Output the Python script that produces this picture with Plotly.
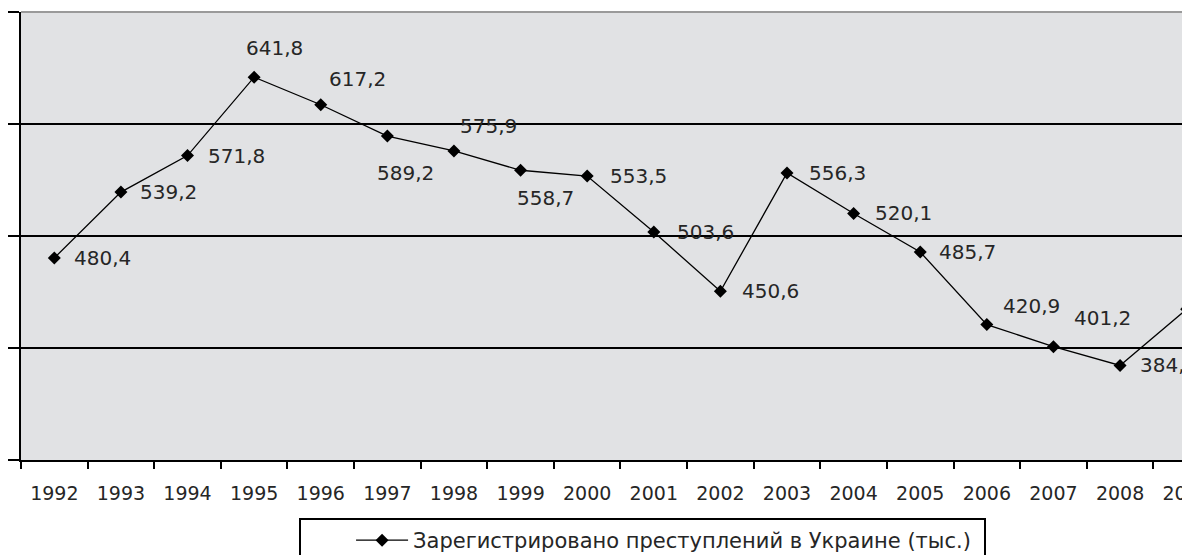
import plotly.graph_objects as go

years = ["1992", "1993", "1994", "1995", "1996", "1997", "1998", "1999", "2000",
         "2001", "2002", "2003", "2004", "2005", "2006", "2007", "2008", "2009"]
crimes = [480.4, 539.2, 571.8, 641.8, 617.2, 589.2, 575.9, 558.7, 553.5,
          503.6, 450.6, 556.3, 520.1, 485.7, 420.9, 401.2, 384.4, 434.7]
labels = ["480,4", "539,2", "571,8", "641,8", "617,2", "589,2", "575,9", "558,7", "553,5",
          "503,6", "450,6", "556,3", "520,1", "485,7", "420,9", "401,2", "384,4", "434,7"]
series_name = "Зарегистрировано преступлений в Украине (тыс.)"

# label offsets (pixels) for data labels
lab_dx = [18, 17, 18, -10, 6, -12, 4, -6, 21, 21, 20, 20, 19, 17, 14, 19, 18, 18]
lab_dy = [0, 0, 0, 29, 26, -37, 25, -28, 0, 0, 0, 0, 0, 0, 19, 29, 0, 0]

FONT = "DejaVu Sans"
TXT = "#262626"

# page body has an 8px margin, so the figure is sized to fill the rest of the window
W, H = 1182, 547

fig = go.Figure()
fig.add_trace(go.Scatter(
    x=years, y=crimes, mode="lines+markers", name=series_name,
    line=dict(color="black", width=1.3),
    marker=dict(symbol="diamond", size=10, color="black"),
    cliponaxis=False, showlegend=True,
))

annotations = []
for i, (v, t, dx, dy) in enumerate(zip(crimes, labels, lab_dx, lab_dy)):
    annotations.append(dict(
        x=i, y=v, xref="x", yref="y", text=t, showarrow=False,
        xanchor="left", yanchor="middle", xshift=dx, yshift=dy,
        font=dict(family=FONT, size=20, color=TXT),
    ))

fig.update_layout(
    width=W, height=H,
    margin=dict(l=13, r=0, t=4, b=95),
    paper_bgcolor="white",
    plot_bgcolor="#e1e2e4",
    showlegend=True,
    legend=dict(
        orientation="h", xref="container", yref="container",
        x=291 / W, y=1 - 510 / H, xanchor="left", yanchor="top",
        bgcolor="white", bordercolor="black", borderwidth=2,
        entrywidth=565, entrywidthmode="pixels",
        font=dict(family=FONT, size=21, color=TXT),
        itemwidth=52,
        title=dict(text="\u00a0" * 6, side="left", font=dict(family=FONT, size=21)),
    ),
    annotations=annotations,
    shapes=[dict(type="line", xref="paper", yref="paper", x0=0, x1=1, y0=1, y1=1,
                 line=dict(color="#9a9a9a", width=2), layer="above")],
)

fig.update_xaxes(
    type="category", range=[-0.5, 17.05], automargin=False,
    showline=True, linecolor="black", linewidth=2,
    ticks="outside", tickson="boundaries", ticklen=7, tickwidth=2, tickcolor="black",
    showgrid=False, zeroline=False,
    ticklabelstandoff=15,
    tickfont=dict(family=FONT, size=19, color=TXT),
)
fig.update_yaxes(
    range=[300, 700], tickvals=[300, 400, 500, 600, 700], automargin=False,
    showticklabels=False,
    showline=True, linecolor="black", linewidth=2,
    ticks="outside", ticklen=12, tickwidth=2, tickcolor="black",
    showgrid=True, gridcolor="black", gridwidth=2, zeroline=False,
)

fig.write_html("out.html")
